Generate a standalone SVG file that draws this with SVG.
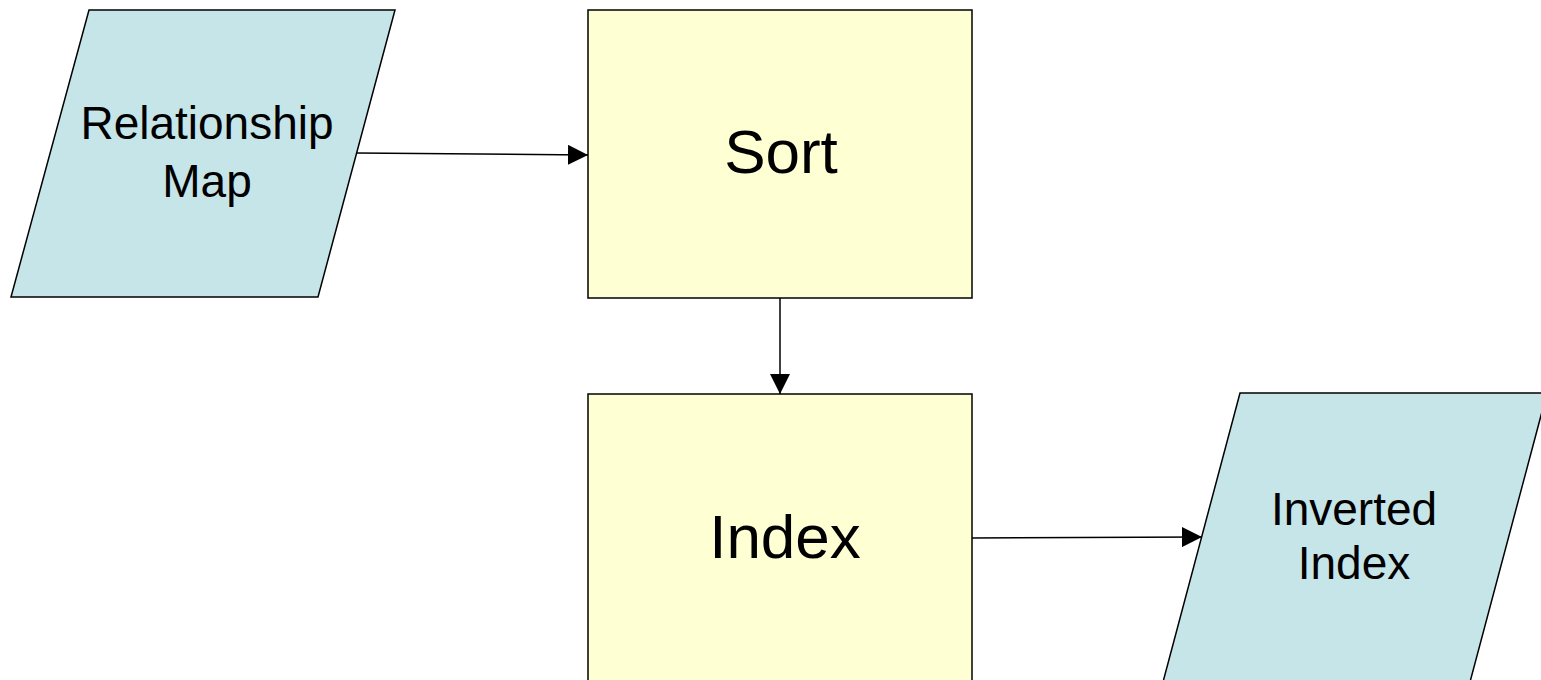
<svg xmlns="http://www.w3.org/2000/svg" width="1541" height="680" viewBox="0 0 1541 680">
  <style>
    .io { fill: #c6e5e8; stroke: #000; stroke-width: 1.5; }
    .proc { fill: #ffffd4; stroke: #000; stroke-width: 1.5; }
    .lbl { font-family: "Liberation Sans", Arial, sans-serif; fill: #000; text-anchor: middle; }
    .small { font-size: 46px; }
    .big { font-size: 62px; }
    .conn { stroke: #000; stroke-width: 1.5; fill: none; marker-end: url(#arrow); }
  </style>
  <defs>
    <marker id="arrow" markerUnits="userSpaceOnUse" markerWidth="20" markerHeight="20" viewBox="0 0 20 20" refX="20" refY="10" orient="auto">
      <path d="M0,0 L20,10 L0,20 Z" fill="#000"/>
    </marker>
  </defs>
  <rect width="1541" height="680" fill="#ffffff"/>
  <g id="relationship-map">
    <polygon class="io" points="89,10 395,10 318,297 11,297"/>
    <text class="lbl small" x="207" y="139">Relationship</text>
    <text class="lbl small" x="207" y="197">Map</text>
  </g>
  <g id="sort">
    <rect class="proc" x="588" y="10" width="384" height="288"/>
    <text class="lbl big" x="781" y="173">Sort</text>
  </g>
  <g id="index">
    <rect class="proc" x="588" y="394" width="384" height="300"/>
    <text class="lbl big" x="785" y="558">Index</text>
  </g>
  <g id="inverted-index">
    <polygon class="io" points="1240,393 1547,393 1470,682 1163,682"/>
    <text class="lbl small" x="1354" y="525">Inverted</text>
    <text class="lbl small" x="1354" y="579">Index</text>
  </g>
  <g id="connectors">
    <line class="conn" x1="357" y1="153" x2="588" y2="155"/>
    <line class="conn" x1="780" y1="298" x2="780" y2="394"/>
    <line class="conn" x1="972" y1="538" x2="1202" y2="537"/>
  </g>
</svg>
